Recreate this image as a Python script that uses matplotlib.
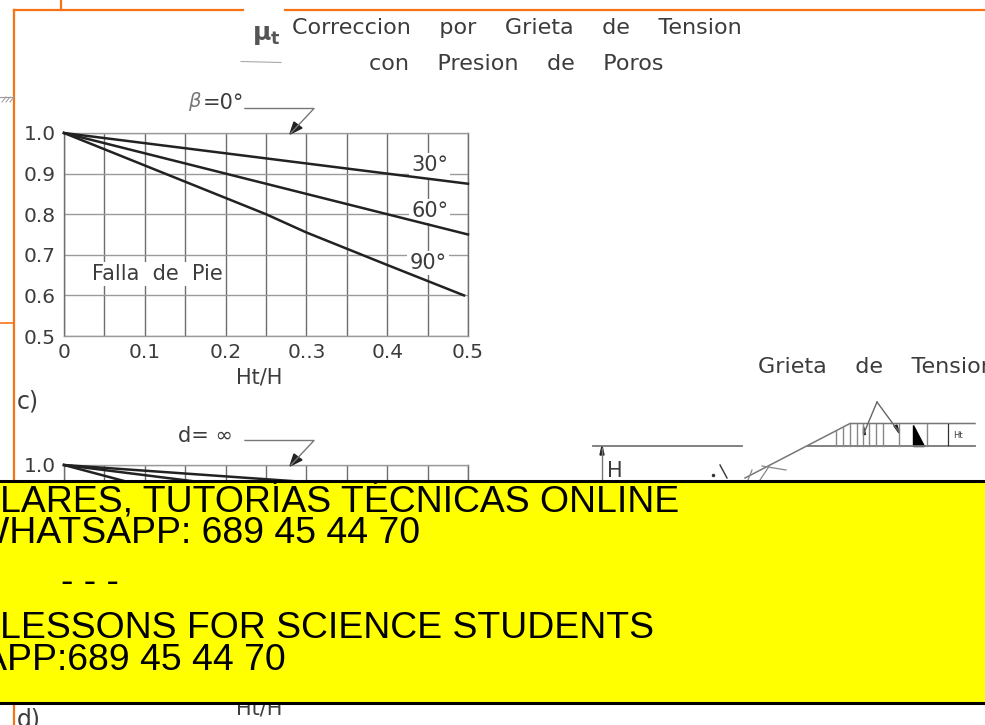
import numpy as np
import matplotlib
matplotlib.use('Agg')
import matplotlib.pyplot as plt
from matplotlib.patches import Polygon, Rectangle

W, H = 985, 725
INK = '#3c3c3c'
ORANGE = '#f97316'

# Chart data
x_ticks = [0, 0.1, 0.2, 0.3, 0.4, 0.5]
x_labels = ['0', '0.1', '0.2', '0..3', '0.4', '0.5']
x_minor = [0.05, 0.15, 0.25, 0.35, 0.45]
y_ticks = [0.5, 0.6, 0.7, 0.8, 0.9, 1.0]
y_labels = ['0.5', '0.6', '0.7', '0.8', '0.9', '1.0']

c_x30 = [0, 0.5]
c_y30 = [1.0, 0.875]
c_x60 = [0, 0.5]
c_y60 = [1.0, 0.75]
c_x90 = [0, 0.1, 0.15, 0.2, 0.25, 0.3, 0.35, 0.4, 0.495]
c_y90 = [1.0, 0.92, 0.88, 0.84, 0.80, 0.755, 0.715, 0.675, 0.60]

# lower chart is almost all hidden by the banner
d_x1 = [0, 0.5]
d_y1 = [1.0, 0.93]
d_x2 = [0, 0.5]
d_y2 = [1.0, 0.875]
d_x3 = [0, 0.5]
d_y3 = [1.0, 0.735]

banner_lines = ['LARES, TUTORÍAS TÉCNICAS ONLINE', 'WHATSAPP: 689 45 44 70', '- - -',
                'LESSONS FOR SCIENCE STUDENTS', 'WHATSAPP:689 45 44 70']


def add_chart(left, top, right, bottom, series, xlab, ylab):
    ax = fig.add_axes([left / W, 1 - bottom / H, (right - left) / W, (bottom - top) / H], zorder=1)
    ax.set_xlim(0, 0.5)
    ax.set_ylim(0.5, 1.0)
    ax.set_xticks(x_ticks)
    ax.set_xticklabels(xlab)
    ax.set_xticks(x_minor, minor=True)
    ax.set_yticks(y_ticks)
    ax.set_yticklabels(ylab)
    ax.grid(True, axis='x', which='both', color='#6e6e6e', lw=1.0)
    ax.grid(True, axis='y', color='#9a9a9a', lw=1.0)
    ax.tick_params(which='both', length=0, labelsize=14.5, labelcolor=INK)
    ax.tick_params(axis='x', pad=5)
    ax.tick_params(axis='y', pad=6)
    for name, s in ax.spines.items():
        s.set_color('#9a9a9a' if name in ('top', 'bottom') else '#6e6e6e')
        s.set_linewidth(1.0)
    for xs, ys in series:
        ax.plot(xs, ys, color='#222222', lw=1.8, clip_on=False, zorder=3)
    ax.set_xlabel('Ht/H', fontsize=15, color=INK)
    ax.xaxis.set_label_coords(0.483, -41 / (bottom - top), transform=ax.transAxes)
    ax.xaxis.label.set_va('center')
    return ax


fig = plt.figure(figsize=(9.85, 7.25), dpi=100, facecolor='white')

ax_c = add_chart(64, 133, 468, 336, [(c_x30, c_y30), (c_x60, c_y60), (c_x90, c_y90)], x_labels, y_labels)
box = dict(facecolor='white', edgecolor='none', pad=1.5)
ax_c.text(0.4525, 0.92, '30°', fontsize=15, color=INK, ha='center', va='center', bbox=box, zorder=2)
ax_c.text(0.4525, 0.807, '60°', fontsize=15, color=INK, ha='center', va='center', bbox=box, zorder=2)
ax_c.text(0.4505, 0.68, '90°', fontsize=15, color=INK, ha='center', va='center', bbox=box, zorder=2)
ax_c.text(0.115, 0.652, 'Falla  de  Pie', fontsize=15, color=INK, ha='center', va='center', bbox=box, zorder=2)

ax_d = add_chart(64, 465, 468, 668, [(d_x1, d_y1), (d_x2, d_y2), (d_x3, d_y3)],
                 [''] * 6, ['', '', '', '', '', '1.0'])

# pixel overlay for the drawing around the charts
ov = fig.add_axes([0, 0, 1, 1], zorder=2)
ov.set_xlim(0, W)
ov.set_ylim(H, 0)
ov.axis('off')
ov.patch.set_alpha(0)

ov.plot([14, 243], [9.5, 9.5], color=ORANGE, lw=1.6)
ov.plot([285, 985], [9.5, 9.5], color=ORANGE, lw=1.6)
ov.plot([14, 14], [9.5, 725], color=ORANGE, lw=1.6)
ov.plot([61, 61], [0, 9.5], color=ORANGE, lw=1.6)
ov.plot([0, 14], [323, 323], color=ORANGE, lw=1.2)
ov.plot([0, 13], [97, 97], color='#999999', lw=0.8)
for hx in [2, 6, 10]:
    ov.plot([hx, hx + 4], [102, 97], color='#999999', lw=0.7)

ov.text(266, 35, r'$\mathbf{\mu_t}$', fontsize=18, color='#555555', ha='center', va='center')
ov.plot([241, 281], [61.5, 62.5], color='#aaaaaa', lw=0.8)
ov.text(517, 28, 'Correccion    por    Grieta    de    Tension', fontsize=16, color=INK, ha='center', va='center')
ov.text(516, 64, 'con    Presion    de    Poros', fontsize=16, color=INK, ha='center', va='center')

# leaders to the top of each chart
for dy in [0, 332]:
    ov.plot([245, 314, 291], [108.5 + dy, 108.5 + dy, 133 + dy], color='#777777', lw=1.0)
    ov.add_patch(Polygon([[290, 134 + dy], [294, 122 + dy], [302, 128 + dy]], color='#222222'))
ov.text(194, 101, 'β', fontsize=14, style='italic', color='#777777', ha='center', va='center')
ov.text(223, 103, '=0°', fontsize=15, color=INK, ha='center', va='center')
ov.text(205, 436, 'd= ∞', fontsize=15, color=INK, ha='center', va='center')

ov.text(17, 401, 'c)', fontsize=17, color=INK, ha='left', va='center')
ov.text(17, 719, 'd)', fontsize=17, color=INK, ha='left', va='center')

# tension crack sketch
ov.text(758, 367, 'Grieta    de    Tension', fontsize=16, color=INK, ha='left', va='center', clip_on=True)
ov.plot([593, 742], [446, 446], color='#777777', lw=1.3)
ov.plot([602, 602], [448, 485], color='#777777', lw=1.0)
ov.add_patch(Polygon([[602, 446], [600, 455], [604, 455]], color='#222222'))
ov.text(615, 471, 'H', fontsize=15, color=INK, ha='center', va='center')
ov.plot([745, 850, 975], [478, 423.5, 423.5], color='#777777', lw=1.1)
ov.plot([808, 975], [445.5, 445.5], color='#777777', lw=1.3)
crack_x = [836, 843, 850, 857, 863, 869, 876, 883, 899, 927]
for cx in crack_x:
    ov.plot([cx, cx], [max(423.5, 423.5 + (850 - cx) * 0.52), 445.5], color='#888888', lw=1.0)
ov.plot([877, 864], [402, 433], color='#666666', lw=1.0)
ov.plot([877, 899], [402, 432], color='#666666', lw=1.0)
ov.add_patch(Polygon([[863, 426], [863, 434], [865, 434]], color='#222222'))
ov.add_patch(Polygon([[899, 433], [894, 426], [897, 425]], color='#222222'))
ov.add_patch(Polygon([[913, 425], [913, 446], [924, 446]], color='black'))
ov.plot([948, 948], [424, 445], color='#333333', lw=0.9)
ov.text(958, 435, 'Ht', fontsize=6, color=INK, ha='center', va='center')
ov.plot([762, 786], [466, 470], color='#888888', lw=0.9)
ov.plot([770, 760], [465, 480], color='#888888', lw=0.9)
ov.plot([752, 748], [470, 480], color='#888888', lw=0.9)
ov.plot([720, 727], [465, 478], color='#333333', lw=1.0)
ov.plot([713], [475], marker='.', ms=3, color='#333333')

# yellow banner on top
ov.add_patch(Rectangle((-5, 481), W + 10, 222, facecolor='#ffff00', edgecolor='black', lw=2.2, zorder=5))
BF = 'Liberation Sans'
SZ = 26.9
ov.text(0.5, 512, banner_lines[0], fontsize=SZ, family=BF, color='black', ha='left', va='baseline', zorder=6)
ov.text(420, 543, banner_lines[1], fontsize=SZ, family=BF, color='black', ha='right', va='baseline', zorder=6)
ov.text(89.5, 592, banner_lines[2], fontsize=SZ, family=BF, color='black', ha='center', va='baseline', zorder=6)
ov.text(0.5, 638, banner_lines[3], fontsize=SZ, family=BF, color='black', ha='left', va='baseline', zorder=6)
ov.text(286, 670, banner_lines[4], fontsize=SZ, family=BF, color='black', ha='right', va='baseline', zorder=6)

fig.savefig('out.png', dpi=100)
